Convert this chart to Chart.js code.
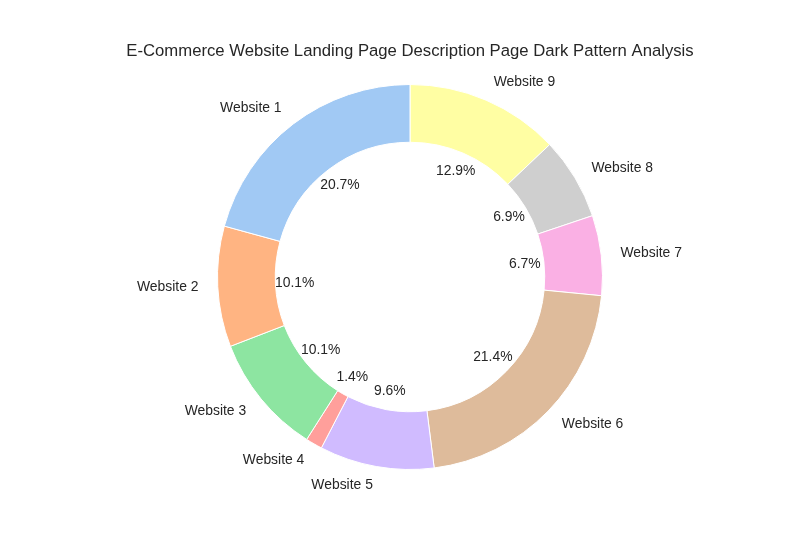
<!DOCTYPE html>
<html>
<head>
<meta charset="utf-8">
<script src="https://cdn.jsdelivr.net/npm/chart.js@4.4.0/dist/chart.umd.min.js"></script>
<style>
html,body{margin:0;padding:0;background:#fff;}
#wrap{width:800px;height:550px;position:relative;}
</style>
</head>
<body>
<div id="wrap"><canvas id="c" width="800" height="550"></canvas></div>
<script>
const chartTitle = "E-Commerce Website Landing Page Description Page Dark Pattern Analysis";
const categories = ["Website 1","Website 2","Website 3","Website 4","Website 5","Website 6","Website 7","Website 8","Website 9"];
const percentages = [20.7, 10.1, 10.1, 1.4, 9.6, 21.4, 6.7, 6.9, 12.9];
const colors = ["#a1c9f4","#ffb482","#8de5a1","#ff9f9b","#d0bbff","#debb9b","#fab0e4","#cfcfcf","#fffea3"];

// matplotlib draws counter-clockwise from the top; Chart.js goes clockwise, so reverse order
const labelsR = categories.slice().reverse();
const dataR = percentages.slice().reverse();
const colorsR = colors.slice().reverse();

const labelPlugin = {
  id: 'mplLabels',
  afterDraw(chart) {
    const ctx = chart.ctx;
    const meta = chart.getDatasetMeta(0);
    ctx.save();
    ctx.fillStyle = '#262626';
    ctx.font = '16.7px "Liberation Sans", Arial, sans-serif';
    ctx.textAlign = 'center';
    ctx.textBaseline = 'middle';
    ctx.fillText(chartTitle, 410, 51);
    ctx.font = '13.9px "Liberation Sans", Arial, sans-serif';
    meta.data.forEach((arc, i) => {
      const p = arc.getProps(['x','y','startAngle','endAngle','outerRadius'], true);
      const mid = (p.startAngle + p.endAngle) / 2;
      const c = Math.cos(mid), s = Math.sin(mid);
      const lx = p.x + c * p.outerRadius * 1.1;
      const ly = p.y + s * p.outerRadius * 1.1;
      ctx.textAlign = c >= 0 ? 'left' : 'right';
      ctx.fillText(labelsR[i], lx, ly);
      const px = p.x + c * p.outerRadius * 0.6;
      const py = p.y + s * p.outerRadius * 0.6;
      ctx.textAlign = 'center';
      ctx.fillText(dataR[i].toFixed(1) + '%', px, py);
    });
    ctx.restore();
  }
};

new Chart(document.getElementById('c'), {
  type: 'doughnut',
  data: {
    labels: labelsR,
    datasets: [{
      data: dataR,
      backgroundColor: colorsR,
      borderColor: '#ffffff',
      borderWidth: 1,
      hoverOffset: 0
    }]
  },
  options: {
    responsive: false,
    animation: false,
    rotation: 0,
    cutout: '70%',
    layout: { padding: { left: 217, right: 197, top: 84, bottom: 80 } },
    plugins: { legend: { display: false }, tooltip: { enabled: false }, title: { display: false } }
  },
  plugins: [labelPlugin]
});
</script>
</body>
</html>
